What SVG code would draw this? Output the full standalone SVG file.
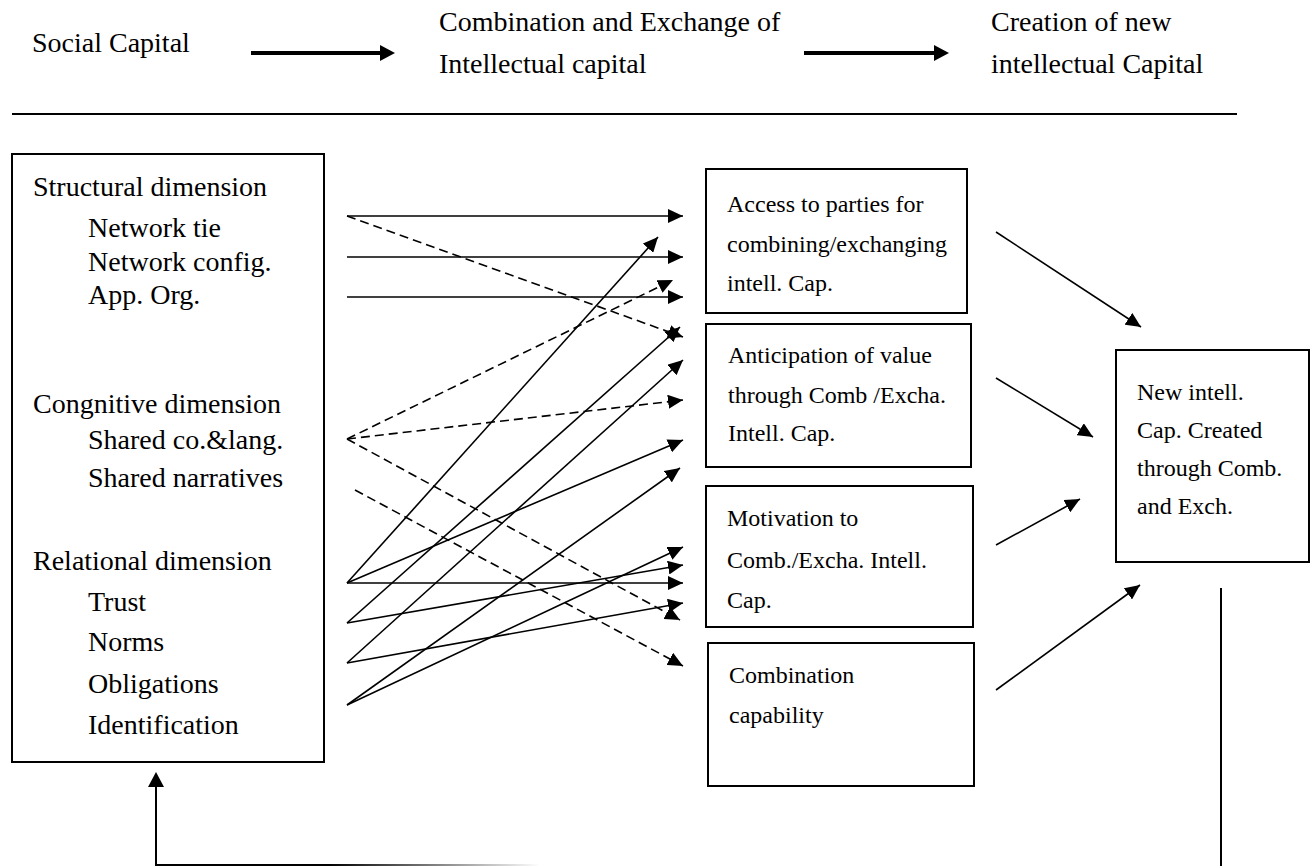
<svg xmlns="http://www.w3.org/2000/svg" width="1311" height="866" viewBox="0 0 1311 866">
<defs>
<style>
text { font-family: "Liberation Serif", "Times New Roman", serif; fill: #000; }
.hdr { font-size: 28px; }
.lt { font-size: 28px; }
.mt { font-size: 24px; }
.box { fill: #fff; stroke: #000; stroke-width: 2; }
.ln { stroke: #000; stroke-width: 1.6; fill: none; marker-end: url(#ah); }
.dash { stroke-dasharray: 9 5; }
.big { stroke: #000; stroke-width: 4; fill: none; marker-end: url(#ahb); }
</style>
<marker id="ah" markerUnits="userSpaceOnUse" markerWidth="16" markerHeight="14" refX="15" refY="7" orient="auto"><path d="M0,0 L15,7 L0,14 z" fill="#000"/></marker>
<marker id="ahb" markerUnits="userSpaceOnUse" markerWidth="16" markerHeight="16" refX="0" refY="8" orient="auto"><path d="M0,0 L15,8 L0,16 z" fill="#000"/></marker>
<linearGradient id="fade" gradientUnits="userSpaceOnUse" x1="155" y1="0" x2="540" y2="0"><stop offset="0.45" stop-color="#000"/><stop offset="1" stop-color="#fff"/></linearGradient>
</defs>
<rect width="1311" height="866" fill="#fff"/>

<g id="header">
<text class="hdr" x="32" y="52">Social Capital</text>
<text class="hdr" x="439" y="31">Combination and Exchange of</text>
<text class="hdr" x="439" y="73">Intellectual capital</text>
<text class="hdr" x="991" y="31">Creation of new</text>
<text class="hdr" x="991" y="73">intellectual Capital</text>
<line class="big" x1="251" y1="53" x2="380" y2="53"/>
<line class="big" x1="804" y1="53" x2="934" y2="53"/>
<line x1="12" y1="114" x2="1237" y2="114" stroke="#000" stroke-width="2"/>
</g>

<g id="social-capital">
<rect class="box" x="12" y="154" width="312" height="608"/>
<text class="lt" x="33" y="196">Structural dimension</text>
<text class="lt" x="88" y="237">Network tie</text>
<text class="lt" x="88" y="271">Network config.</text>
<text class="lt" x="88" y="304">App. Org.</text>
<text class="lt" x="33" y="413">Congnitive dimension</text>
<text class="lt" x="88" y="449">Shared co.&amp;lang.</text>
<text class="lt" x="88" y="487">Shared narratives</text>
<text class="lt" x="33" y="570">Relational dimension</text>
<text class="lt" x="88" y="611">Trust</text>
<text class="lt" x="88" y="651">Norms</text>
<text class="lt" x="88" y="693">Obligations</text>
<text class="lt" x="88" y="734">Identification</text>
</g>

<g id="access">
<rect class="box" x="706" y="169" width="261" height="144"/>
<text class="mt" x="727" y="212">Access to parties for</text>
<text class="mt" x="727" y="252">combining/exchanging</text>
<text class="mt" x="727" y="291">intell. Cap.</text>
</g>

<g id="anticipation">
<rect class="box" x="706" y="324" width="265" height="143"/>
<text class="mt" x="728" y="363">Anticipation of value</text>
<text class="mt" x="728" y="403">through Comb /Excha.</text>
<text class="mt" x="728" y="441">Intell. Cap.</text>
</g>

<g id="motivation">
<rect class="box" x="706" y="486" width="267" height="141"/>
<text class="mt" x="727" y="526">Motivation to</text>
<text class="mt" x="727" y="568">Comb./Excha. Intell.</text>
<text class="mt" x="727" y="608">Cap.</text>
</g>

<g id="combination">
<rect class="box" x="708" y="643" width="266" height="143"/>
<text class="mt" x="729" y="683">Combination</text>
<text class="mt" x="729" y="723">capability</text>
</g>

<g id="new-capital">
<rect class="box" x="1116" y="350" width="193" height="212"/>
<text class="mt" x="1137" y="400">New intell.</text>
<text class="mt" x="1137" y="438">Cap. Created</text>
<text class="mt" x="1137" y="476">through Comb.</text>
<text class="mt" x="1137" y="514">and Exch.</text>
</g>

<g id="connectors">
<line class="ln" x1="347" y1="216" x2="683" y2="216"/>
<line class="ln dash" x1="347" y1="216" x2="683" y2="337"/>
<line class="ln" x1="347" y1="257" x2="683" y2="257"/>
<line class="ln" x1="347" y1="297" x2="683" y2="297"/>
<line class="ln dash" x1="347" y1="439" x2="673" y2="280"/>
<line class="ln dash" x1="347" y1="439" x2="683" y2="400"/>
<line class="ln dash" x1="347" y1="439" x2="680" y2="620"/>
<line class="ln dash" x1="355" y1="490" x2="683" y2="666"/>
<line class="ln" x1="347" y1="583" x2="658" y2="237"/>
<line class="ln" x1="347" y1="583" x2="683" y2="440"/>
<line class="ln" x1="347" y1="583" x2="683" y2="583"/>
<line class="ln" x1="347" y1="623" x2="680" y2="327"/>
<line class="ln" x1="347" y1="623" x2="683" y2="565"/>
<line class="ln" x1="347" y1="663" x2="683" y2="360"/>
<line class="ln" x1="347" y1="663" x2="683" y2="603"/>
<line class="ln" x1="347" y1="705" x2="680" y2="468"/>
<line class="ln" x1="347" y1="705" x2="683" y2="547"/>
<line class="ln" x1="996" y1="232" x2="1141" y2="327"/>
<line class="ln" x1="996" y1="378" x2="1093" y2="437"/>
<line class="ln" x1="996" y1="545" x2="1080" y2="499"/>
<line class="ln" x1="996" y1="690" x2="1140" y2="585"/>
<line x1="1221" y1="588" x2="1221" y2="866" stroke="#000" stroke-width="2"/>
<line x1="155" y1="865" x2="540" y2="865" stroke="url(#fade)" stroke-width="2"/>
<line x1="156" y1="866" x2="156" y2="787" stroke="#000" stroke-width="2" marker-end="url(#ahb)"/>
</g>
</svg>
